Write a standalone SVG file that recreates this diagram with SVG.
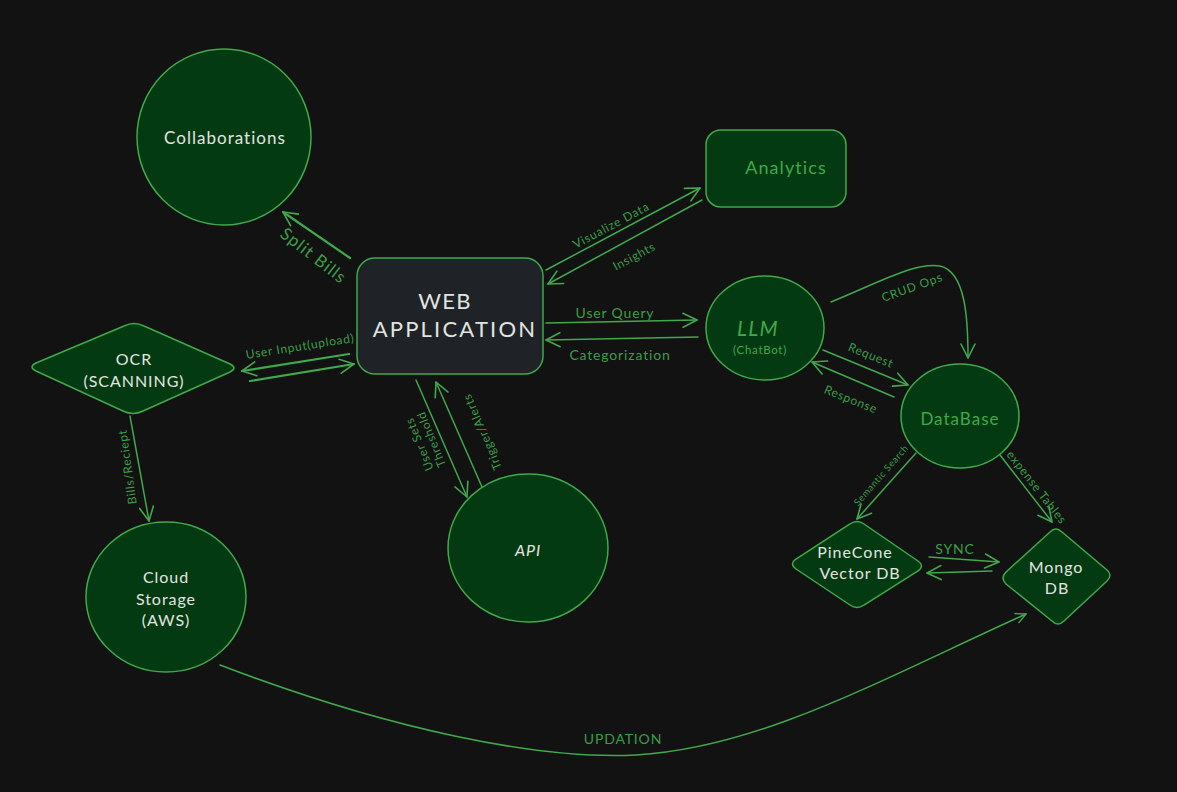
<svg xmlns="http://www.w3.org/2000/svg" width="1177" height="792" viewBox="0 0 1177 792">
  <defs>
    <marker id="arrow" viewBox="0 0 12 12" refX="11" refY="6" markerWidth="12" markerHeight="12" markerUnits="userSpaceOnUse" orient="auto">
      <path d="M1,1 L11,6 L1,11" fill="none" stroke="#3fa94c" stroke-width="1.4" stroke-linecap="round" stroke-linejoin="round"/>
    </marker>
    <marker id="arrowL" viewBox="0 0 16 16" refX="15" refY="8" markerWidth="16" markerHeight="16" markerUnits="userSpaceOnUse" orient="auto">
      <path d="M1,1 L15,8 L1,15" fill="none" stroke="#3fa94c" stroke-width="1.6" stroke-linecap="round" stroke-linejoin="round"/>
    </marker>
  </defs>
  <style>
    .node { fill: #043a11; stroke: #3fa94c; stroke-width: 1.5; }
    .webapp { fill: #1f2328; stroke: #3fa94c; stroke-width: 1.5; }
    .edge { fill: none; stroke: #3fa94c; stroke-width: 1.5; stroke-linecap: round; }
    .edge2 { fill: none; stroke: #3fa94c; stroke-width: 2.2; stroke-linecap: round; }
    text { font-family: "Lato", "Liberation Sans", sans-serif; text-anchor: middle; dominant-baseline: central; letter-spacing: 0.06em; }
    .wt { fill: #e2e4e0; }
    .gt { fill: #3fa94c; }
    .lbl { fill: #3a9e47; font-size: 12px; }
  </style>
  <rect width="1177" height="792" fill="#121212"/>

  <!-- connectors -->
  <g id="connectors">
    <path class="edge2" d="M350,258 L283,212" marker-end="url(#arrowL)"/>
    <text class="lbl" transform="translate(314,255) rotate(38)" style="font-size:17px">Split Bills</text>

    <path class="edge" d="M546,270 L700,188" marker-end="url(#arrowL)"/>
    <text class="lbl" transform="translate(611,225) rotate(-28)">Visualize Data</text>
    <path class="edge" d="M702,200 L548,284" marker-end="url(#arrowL)"/>
    <text class="lbl" transform="translate(634,256) rotate(-28)">Insights</text>

    <path class="edge" d="M546,323 L697,320" marker-end="url(#arrowL)"/>
    <text class="lbl" x="615" y="312" style="font-size:14px">User Query</text>
    <path class="edge" d="M698,337 L546,340" marker-end="url(#arrowL)"/>
    <text class="lbl" x="620" y="354" style="font-size:14px">Categorization</text>

    <path class="edge2" d="M349,354 L242,371" marker-end="url(#arrowL)"/>
    <path class="edge2" d="M250,381 L354,364" marker-end="url(#arrowL)"/>
    <text class="lbl" transform="translate(300,346) rotate(-9)">User Input(upload)</text>

    <path class="edge" d="M130,416 L149,521" marker-end="url(#arrowL)"/>
    <text class="lbl" transform="translate(127,467) rotate(-98)">Bills/Reciept</text>

    <path class="edge" d="M416,380 L467,497" marker-end="url(#arrowL)"/>
    <text class="lbl" transform="translate(425,442) rotate(-112)"><tspan x="0" dy="-7">User Sets</tspan><tspan x="0" dy="13">Threshold</tspan></text>
    <path class="edge" d="M482,487 L436,382" marker-end="url(#arrowL)"/>
    <text class="lbl" transform="translate(482,432) rotate(-113)">Trigger/Alerts</text>

    <path class="edge" d="M831,302 C880,282 915,262 940,266 C966,272 968,320 968,358" marker-end="url(#arrowL)"/>
    <text class="lbl" transform="translate(912,287) rotate(-20)">CRUD Ops</text>

    <path class="edge" d="M823,350 L908,385" marker-end="url(#arrowL)"/>
    <text class="lbl" transform="translate(871,355) rotate(22)">Request</text>
    <path class="edge" d="M894,397 L812,362" marker-end="url(#arrowL)"/>
    <text class="lbl" transform="translate(851,399) rotate(22)">Response</text>

    <path class="edge" d="M916,453 L857,519" marker-end="url(#arrowL)"/>
    <text class="lbl" transform="translate(881,475) rotate(-49)" style="font-size:9.5px">Semantic Search</text>

    <path class="edge" d="M1000,455 L1052,522" marker-end="url(#arrowL)"/>
    <text class="lbl" transform="translate(1037,487) rotate(52)">expense Tables</text>

    <path class="edge" d="M929,557 L999,562" marker-end="url(#arrowL)"/>
    <text class="lbl" x="955" y="548" style="font-size:14px">SYNC</text>
    <path class="edge" d="M992,571 L927,573" marker-end="url(#arrowL)"/>

    <path class="edge" d="M220,665 C390,730 540,760 636,755 C760,748 880,680 1026,614" marker-end="url(#arrow)"/>
    <text class="lbl" x="623" y="738" style="font-size:14px">UPDATION</text>
  </g>

  <!-- nodes -->
  <g id="collaborations">
    <ellipse class="node" cx="224" cy="137" rx="87" ry="88"/>
    <text class="wt" x="225" y="137" font-size="17">Collaborations</text>
  </g>
  <g id="analytics">
    <rect class="node" x="706" y="130" width="140" height="77" rx="15"/>
    <text class="gt" x="786" y="167" font-size="18">Analytics</text>
  </g>
  <g id="web-application">
    <rect class="webapp" x="357" y="258" width="186" height="116" rx="18"/>
    <text class="wt" x="445" y="300" font-size="22">WEB</text>
    <text class="wt" x="455" y="328" font-size="22" style="letter-spacing:0.1em">APPLICATION</text>
  </g>
  <g id="llm">
    <ellipse class="node" cx="765" cy="328" rx="59" ry="52"/>
    <text class="gt" x="758" y="327" font-size="21" font-style="italic">LLM</text>
    <text class="gt" x="760" y="349" font-size="11.5">(ChatBot)</text>
  </g>
  <g id="database">
    <ellipse class="node" cx="960" cy="416" rx="59" ry="52"/>
    <text class="gt" x="960" y="418" font-size="17">DataBase</text>
  </g>
  <g id="ocr">
    <path class="node" d="M124,326 Q134,321 144,326 L230,364 Q238,368 230,372 L143,411 Q133,416 123,411 L36,371 Q28,367 36,363 Z"/>
    <text class="wt" x="134" y="358" font-size="16">OCR</text>
    <text class="wt" x="134" y="380" font-size="16">(SCANNING)</text>
  </g>
  <g id="cloud-storage">
    <ellipse class="node" cx="166" cy="597" rx="80" ry="75"/>
    <text class="wt" x="166" y="576" font-size="16">Cloud</text>
    <text class="wt" x="166" y="598" font-size="16">Storage</text>
    <text class="wt" x="166" y="619" font-size="16">(AWS)</text>
  </g>
  <g id="api">
    <ellipse class="node" cx="528" cy="548" rx="80" ry="74"/>
    <text class="wt" x="528" y="549" font-size="16" font-style="italic">API</text>
  </g>
  <g id="pinecone">
    <path class="node" d="M850,524 Q857,519 864,524 L918,561 Q925,566 918,571 L864,605 Q857,610 850,605 L796,569 Q789,564 796,559 Z"/>
    <text class="wt" x="855" y="551" font-size="16">PineCone</text>
    <text class="wt" x="860" y="572" font-size="16">Vector DB</text>
  </g>
  <g id="mongodb">
    <path class="node" d="M1050,532 Q1056,526 1062,532 L1107,570 Q1113,575 1107,581 L1064,621 Q1058,627 1052,621 L1006,584 Q1000,578 1006,572 Z"/>
    <text class="wt" x="1056" y="566" font-size="16">Mongo</text>
    <text class="wt" x="1057" y="587" font-size="16">DB</text>
  </g>
</svg>
